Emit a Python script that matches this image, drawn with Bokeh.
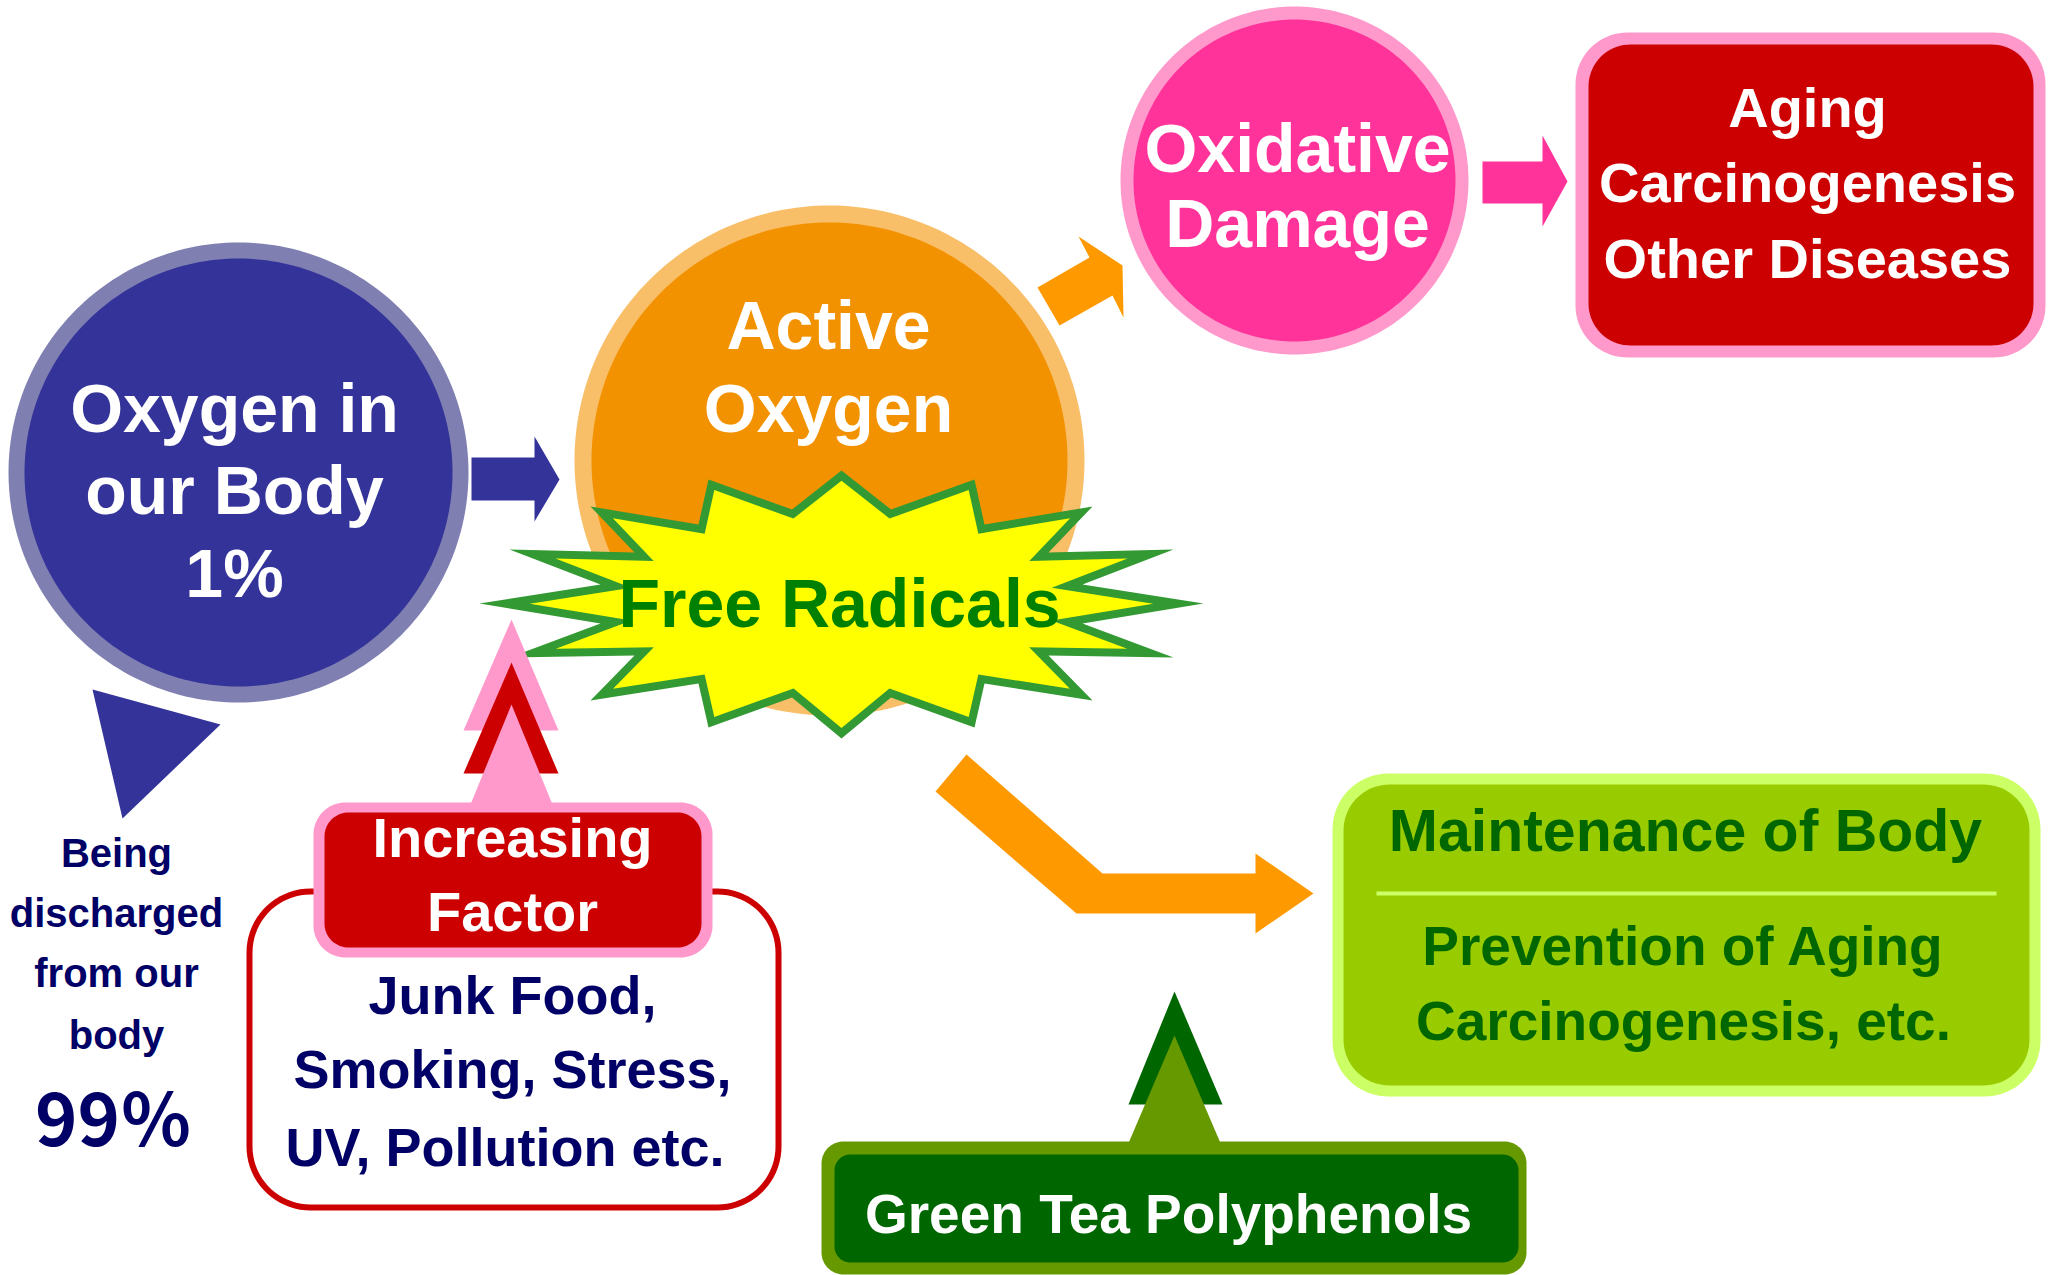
import numpy as np
from bokeh.plotting import figure
from bokeh.models import Range1d
from bokeh.core.properties import value
from bokeh.embed import file_html
from bokeh.resources import INLINE

# ---------------- content (texts and values) ----------------
body_share_pct = 1
discharged_share_pct = 99
oxygen_lines = ["Oxygen in", "our Body", f"{body_share_pct}%"]
discharge_lines = ["Being", "discharged", "from our", "body"]
discharge_pct = [f"{discharged_share_pct}％"]
active_lines = ["Active", "Oxygen"]
radical_lines = ["Free Radicals"]
damage_lines = ["Oxidative", "Damage"]
disease_lines = ["Aging", "Carcinogenesis", "Other Diseases"]
factor_title_lines = ["Increasing", "Factor"]
factor_item_lines = ["Junk Food,", "Smoking, Stress,", "UV,  Pollution etc."]
maintenance_title = ["Maintenance of Body"]
maintenance_lines = ["Prevention of Aging", "Carcinogenesis, etc."]
tea_lines = ["Green Tea Polyphenols"]

# ---------------- figure ----------------
W, H = 2053, 1275
p = figure(width=W, height=H, x_range=Range1d(0, W), y_range=Range1d(H, 0),
           output_backend="svg", toolbar_location=None, tools="",
           x_axis_location=None, y_axis_location=None, min_border=0,
           outline_line_color=None, background_fill_color="white",
           border_fill_color="white")
p.grid.visible = False

FONT = "Liberation Sans"


def circle_poly(cx, cy, r, n=240):
    t = np.linspace(0, 2 * np.pi, n, endpoint=False)
    return list(cx + r * np.cos(t)), list(cy + r * np.sin(t))


def rrect(x0, y0, x1, y1, r, n=20):
    t = np.linspace(0, np.pi / 2, n)
    xs, ys = [], []
    for cx, cy, a0 in [(x1 - r, y0 + r, -np.pi / 2), (x1 - r, y1 - r, 0.0),
                       (x0 + r, y1 - r, np.pi / 2), (x0 + r, y0 + r, np.pi)]:
        xs += list(cx + r * np.cos(a0 + t))
        ys += list(cy + r * np.sin(a0 + t))
    return xs, ys


def inset(xs, ys, d):
    P = np.array([xs, ys], dtype=float).T
    n = len(P)
    area = 0.5 * np.sum(P[:, 0] * np.roll(P[:, 1], -1) - np.roll(P[:, 0], -1) * P[:, 1])
    sgn = 1.0 if area > 0 else -1.0
    out = []
    for i in range(n):
        a, b, c = P[i - 1], P[i], P[(i + 1) % n]
        e1, e2 = b - a, c - b
        n1 = sgn * np.array([-e1[1], e1[0]]) / np.linalg.norm(e1)
        n2 = sgn * np.array([-e2[1], e2[0]]) / np.linalg.norm(e2)
        p1, p2 = a + d * n1, b + d * n2
        t, _ = np.linalg.solve(np.array([e1, -e2]).T, p2 - p1)
        out.append(p1 + t * e1)
    out = np.array(out)
    return list(out[:, 0]), list(out[:, 1])


def shape(pts, color):
    xs, ys = pts
    p.patch(list(xs), list(ys), fill_color=color, line_color=None)


def poly(points):
    return [q[0] for q in points], [q[1] for q in points]


def ring(cx, cy, r, border, outer_c, inner_c):
    shape(circle_poly(cx, cy, r), outer_c)
    shape(circle_poly(cx, cy, r - border), inner_c)


def label(lines, xc, baselines, size, color, font=FONT, style="bold"):
    # the renderer places the visual middle of the line at y: shift from baseline
    ys = [b - 0.36 * size for b in baselines]
    p.text(x=[xc] * len(lines), y=ys, text=lines, text_font=value(font),
           text_font_size=value(f"{size}px"), text_font_style=style,
           text_color=color, text_align="center", text_baseline="alphabetic")


# ---------------- blue: oxygen in body ----------------
shape(poly([(92, 689), (220, 724), (122, 818)]), "#333399")
ring(238, 472, 230, 16, "#7F7FB2", "#333399")
shape(poly([(471, 457), (534, 457), (534, 436), (559, 479), (534, 521), (534, 500), (471, 500)]), "#333399")

# ---------------- orange: active oxygen ----------------
ring(829, 460, 255, 17, "#F8BE68", "#F39200")
shape(poly([(1037, 287), (1089, 257), (1078, 236), (1122, 265), (1123, 317), (1112, 295), (1059, 325)]), "#FF9900")

# ---------------- pink: oxidative damage ----------------
ring(1294, 180, 174, 13, "#FF99CC", "#FF3399")
shape(poly([(1482, 161), (1542, 161), (1542, 135), (1567, 181), (1542, 226), (1542, 203), (1482, 203)]), "#FF3399")

# ---------------- red: diseases ----------------
shape(rrect(1575, 32, 2045, 357, 52), "#FF99CC")
shape(rrect(1588, 44, 2033, 345, 42), "#CC0000")

# ---------------- star: free radicals ----------------
scx, scy = 841, 604
half = [(0, -134), (-49.5, -95), (-133, -125), (-143, -80), (-251, -98), (-207, -52),
        (-332, -55), (-241, -20), (-362, -1), (-241, 19), (-332, 53), (-207, 51),
        (-251, 96), (-143, 79), (-133, 123), (-49.5, 93), (0, 134)]
star = half + [(-dx, dy) for dx, dy in reversed(half[1:-1])]
sx = [scx + dx for dx, dy in star]
sy = [scy + dy for dx, dy in star]
shape((sx, sy), "#339933")
shape(inset(sx, sy, 8), "#FFFF00")

# ---------------- increasing factor ----------------
shape(rrect(246, 888, 781, 1210, 64), "#CC0000")
shape(rrect(252, 894, 775, 1204, 58), "#FFFFFF")
shape(rrect(313, 802, 712, 957, 32), "#FF99CC")
shape(rrect(324, 812, 701, 947, 24), "#CC0000")
shape(poly([(511, 619), (558, 730), (463, 730)]), "#FF99CC")
shape(poly([(511, 662), (558, 773), (463, 773)]), "#CC0000")
shape(poly([(511, 704), (552, 804), (470, 804)]), "#FF99CC")

# ---------------- orange bent arrow ----------------
shape(poly([(966, 754), (1102, 873), (1255, 873), (1255, 853), (1313, 893),
            (1255, 933), (1255, 913), (1076, 913), (935, 791)]), "#FF9900")

# ---------------- green: maintenance ----------------
shape(rrect(1332, 773, 2040, 1096, 56), "#CCFF66")
shape(rrect(1343, 784, 2029, 1085, 46), "#99CC00")
p.line([1376, 1996], [893, 893], line_color="#CCFF66", line_width=4)

# ---------------- green tea ----------------
shape(poly([(1174, 991), (1222, 1104), (1128, 1104)]), "#006600")
shape(poly([(1174, 1035), (1221, 1145), (1127, 1145)]), "#669900")
shape(rrect(821, 1141, 1526, 1274, 22), "#669900")
shape(rrect(834, 1154, 1518, 1262, 16), "#006600")

# ---------------- texts ----------------
label(oxygen_lines, 234, [432, 514, 597], 68, "white")
label(discharge_lines, 116, [867, 927, 987, 1049], 40, "#000066")
label(discharge_pct, 113, [1140], 72, "#000066", font="Noto Sans CJK JP")
label(active_lines, 828, [349, 432], 68, "white")
label(radical_lines, 839, [627], 68, "#008000")
label(damage_lines, 1297, [172, 247], 68, "white")
label(disease_lines, 1807, [127, 202, 278], 56, "white")
label(factor_title_lines, 512, [857, 931], 56, "white")
label(factor_item_lines, 512, [1014, 1088, 1166], 54, "#000066")
label(maintenance_title, 1685, [852], 59, "#006600")
label(maintenance_lines, 1683, [965, 1040], 55, "#006600")
label(tea_lines, 1168, [1233], 55, "white")

open("out.html", "w").write(file_html(p, INLINE))
